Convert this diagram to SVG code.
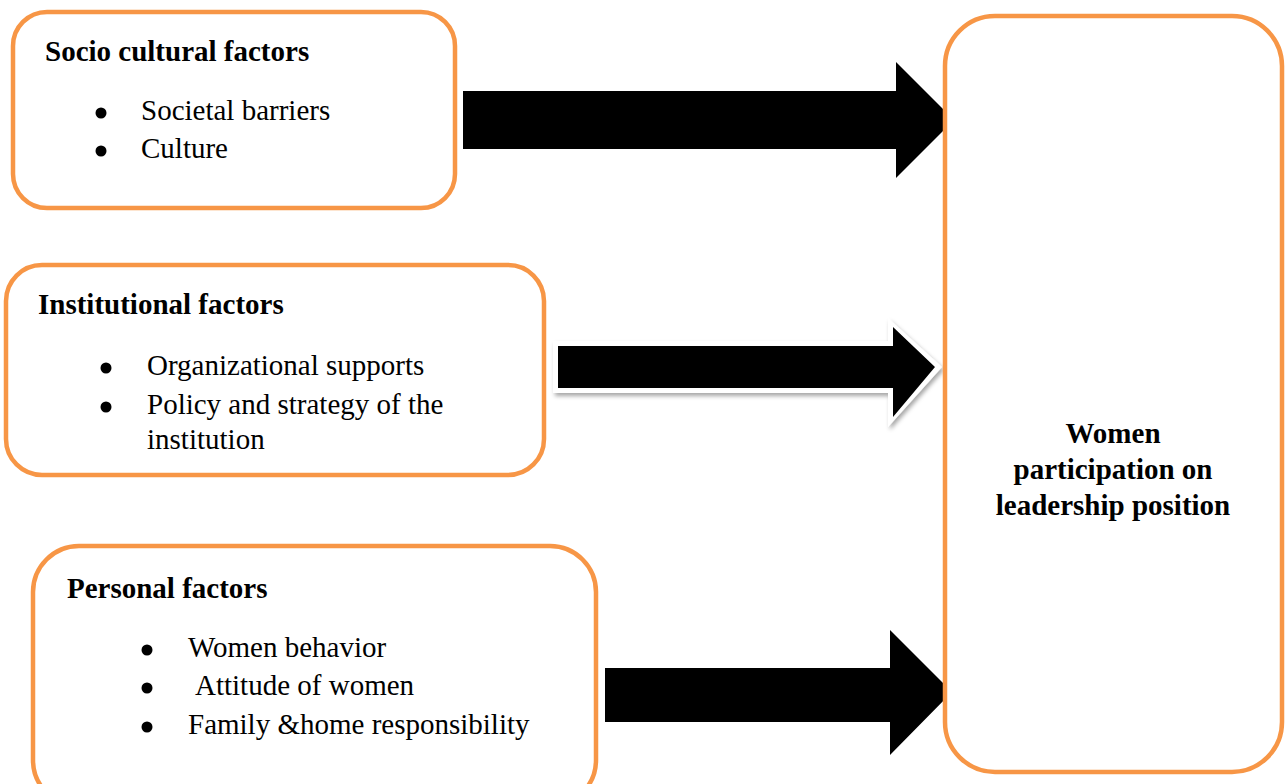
<svg xmlns="http://www.w3.org/2000/svg" width="1285" height="784" viewBox="0 0 1285 784">
<style>
.box{fill:#fff;stroke:#F79646;stroke-width:4.5}
.t{font-family:"Liberation Serif","Times New Roman",serif;font-size:29px;fill:#000}
.b{font-weight:bold}
.arr{fill:#000}
</style>
<defs>
<filter id="sh" x="-10%" y="-30%" width="120%" height="160%">
<feDropShadow dx="2" dy="3" stdDeviation="2" flood-color="#000" flood-opacity="0.35"/>
</filter>
</defs>
<rect width="1285" height="784" fill="#fff"/>
<g id="socio">
<rect class="box" x="13" y="12" width="442" height="196" rx="34"/>
<text class="t b" x="45" y="61">Socio cultural factors</text>
<circle cx="101" cy="113" r="5.5"/>
<text class="t" x="141" y="120">Societal barriers</text>
<circle cx="101" cy="151" r="5.5"/>
<text class="t" x="141" y="158">Culture</text>
</g>
<g id="institutional">
<rect class="box" x="6" y="265" width="538" height="210" rx="36"/>
<text class="t b" x="38" y="314">Institutional factors</text>
<circle cx="106" cy="368" r="5.5"/>
<text class="t" x="147" y="375">Organizational supports</text>
<circle cx="106" cy="407" r="5.5"/>
<text class="t" x="147" y="414">Policy and strategy of the</text>
<text class="t" x="147" y="449">institution</text>
</g>
<g id="personal">
<rect class="box" x="33" y="546" width="563" height="260" rx="46"/>
<text class="t b" x="67" y="598">Personal factors</text>
<circle cx="147" cy="650" r="5.5"/>
<text class="t" x="188" y="657">Women behavior</text>
<circle cx="147" cy="688" r="5.5"/>
<text class="t" x="195" y="695">Attitude of women</text>
<circle cx="147" cy="727" r="5.5"/>
<text class="t" x="188" y="734">Family &amp;home responsibility</text>
</g>
<g id="connectors">
<polygon class="arr" points="463,91 896,91 896,62 954,120 896,178 896,149 463,149"/>
<polygon points="553,341 888,341 888,318 942,367 888,427 888,393 553,393" fill="#fff" filter="url(#sh)"/>
<polygon class="arr" points="558,346 893,346 893,327 935,367 893,417 893,388 558,388"/>
<polygon class="arr" points="605,668 890,668 890,630 952,692 890,755 890,722 605,722"/>
</g>
<g id="women">
<rect class="box" x="945" y="16" width="337" height="756" rx="50"/>
<text class="t b" x="1113" y="443" text-anchor="middle">Women</text>
<text class="t b" x="1113" y="479" text-anchor="middle">participation on</text>
<text class="t b" x="1113" y="515" text-anchor="middle">leadership position</text>
</g>
</svg>
